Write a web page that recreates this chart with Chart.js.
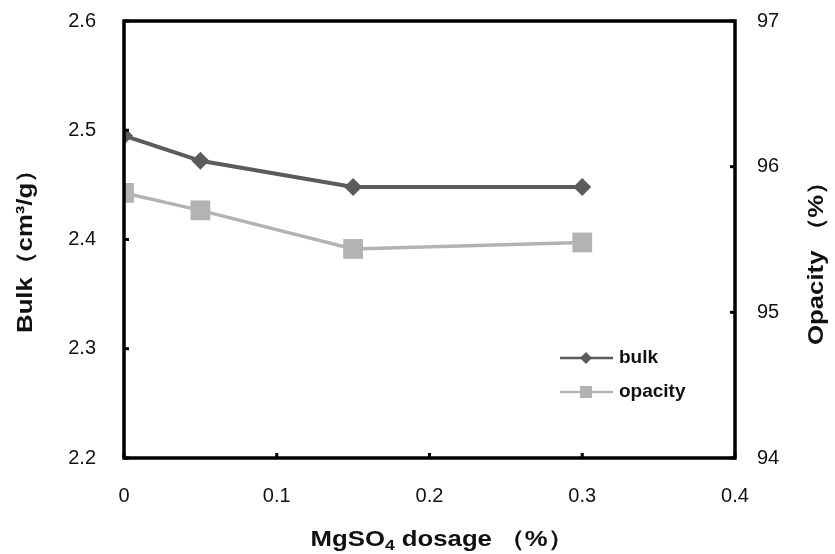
<!DOCTYPE html>
<html><head><meta charset="utf-8">
<script src="https://cdn.jsdelivr.net/npm/chart.js@4"></script>
<style>html,body{margin:0;padding:0;background:#fff}#wrap{width:835px;height:554px}</style>
</head><body><div id="wrap"><canvas id="c" width="835" height="554"></canvas></div>
<script>
const dosage = [0, 0.05, 0.15, 0.3];
const bulk = [2.495, 2.472, 2.448, 2.448];
const opacity = [95.82, 95.70, 95.435, 95.48];
const xTicks = [0, 0.1, 0.2, 0.3, 0.4];
const bulkTicks = [2.2, 2.3, 2.4, 2.5, 2.6];
const opacityTicks = [94, 95, 96, 97];

const FONT = "'Liberation Sans', Arial, 'DejaVu Sans', sans-serif";

const framePlugin = {
  id: 'frame',
  afterDatasetsDraw(chart) {
    const ctx = chart.ctx, a = chart.chartArea;
    ctx.save();
    ctx.strokeStyle = '#000';
    ctx.lineWidth = 3.5;
    ctx.strokeRect(a.left, a.top, a.right - a.left, a.bottom - a.top);
    ctx.lineWidth = 3;
    const tl = 5;
    chart.scales.x.ticks.forEach(t => {
      const px = chart.scales.x.getPixelForValue(t.value);
      ctx.beginPath(); ctx.moveTo(px, a.bottom); ctx.lineTo(px, a.bottom - tl); ctx.stroke();
    });
    chart.scales.y.ticks.forEach(t => {
      const py = chart.scales.y.getPixelForValue(t.value);
      ctx.beginPath(); ctx.moveTo(a.left, py); ctx.lineTo(a.left + tl, py); ctx.stroke();
    });
    chart.scales.y1.ticks.forEach(t => {
      const py = chart.scales.y1.getPixelForValue(t.value);
      ctx.beginPath(); ctx.moveTo(a.right, py); ctx.lineTo(a.right - tl, py); ctx.stroke();
    });
    // legend
    const items = [
      {ds: chart.data.datasets[0], y: 358},
      {ds: chart.data.datasets[1], y: 392}
    ];
    items.forEach(it => {
      const ds = it.ds;
      ctx.strokeStyle = ds.borderColor;
      ctx.lineWidth = 2.5;
      ctx.beginPath(); ctx.moveTo(560, it.y); ctx.lineTo(613, it.y); ctx.stroke();
      ctx.fillStyle = ds.backgroundColor;
      ctx.beginPath();
      if (ds.pointStyle === 'rect') { ctx.rect(586 - 6, it.y - 6, 12, 12); }
      else { ctx.moveTo(586, it.y - 6); ctx.lineTo(592, it.y); ctx.lineTo(586, it.y + 6); ctx.lineTo(580, it.y); ctx.closePath(); }
      ctx.fill();
      ctx.fillStyle = '#111';
      ctx.font = 'bold 19px ' + FONT;
      ctx.textBaseline = 'middle';
      ctx.textAlign = 'left';
      ctx.fillText(ds.label, 619, it.y);
    });
    // axis titles
    ctx.fillStyle = '#111';
    ctx.textBaseline = 'middle';
    const big = 'bold 22px ' + FONT, small = 'bold 15px ' + FONT;
    const SX = 1.17;
    // x title with subscript
    const p1 = 'MgSO', p2 = '4', p3 = ' dosage （%）';
    ctx.font = big; const w1 = ctx.measureText(p1).width, w3 = ctx.measureText(p3).width;
    ctx.font = small; const w2 = ctx.measureText(p2).width;
    ctx.save();
    ctx.translate(442, 540); ctx.scale(SX, 1);
    let x0 = -(w1 + w2 + w3) / 2;
    ctx.textAlign = 'left';
    ctx.font = big; ctx.fillText(p1, x0, 0);
    ctx.font = small; ctx.fillText(p2, x0 + w1, 6);
    ctx.font = big; ctx.fillText(p3, x0 + w1 + w2, 0);
    ctx.restore();
    // left title
    ctx.save();
    ctx.translate(26, 245); ctx.rotate(-Math.PI / 2); ctx.scale(SX, 1);
    ctx.textAlign = 'center'; ctx.font = big;
    ctx.fillText('Bulk（cm³/g）', 0, 0);
    ctx.restore();
    // right title
    ctx.save();
    ctx.translate(817, 257); ctx.rotate(-Math.PI / 2); ctx.scale(SX, 1);
    ctx.textAlign = 'center'; ctx.font = big;
    ctx.fillText('Opacity （%）', 0, 0);
    ctx.restore();
    ctx.restore();
  }
};

new Chart(document.getElementById('c'), {
  type: 'line',
  data: {
    datasets: [
      {
        label: 'bulk',
        data: dosage.map((x, i) => ({x, y: bulk[i]})),
        yAxisID: 'y',
        borderColor: '#5b5b5b',
        backgroundColor: '#5b5b5b',
        borderWidth: 4,
        pointStyle: 'rectRot',
        pointRadius: 9,
        pointBorderWidth: 0,
        tension: 0
      },
      {
        label: 'opacity',
        data: dosage.map((x, i) => ({x, y: opacity[i]})),
        yAxisID: 'y1',
        borderColor: '#b3b3b3',
        backgroundColor: '#b3b3b3',
        borderWidth: 3.5,
        pointStyle: 'rect',
        pointRadius: 14,
        pointBorderWidth: 0,
        tension: 0
      }
    ]
  },
  plugins: [framePlugin],
  options: {
    responsive: false,
    animation: false,
    events: [],
    layout: {padding: {top: 21, left: 0, right: 0, bottom: 0}},
    plugins: {legend: {display: false}, tooltip: {enabled: false}},
    scales: {
      x: {
        type: 'linear', min: 0, max: 0.4,
        afterBuildTicks: s => { s.ticks = xTicks.map(v => ({value: v})); },
        afterFit: s => { s.height = 96; },
        grid: {display: false, drawTicks: false},
        border: {display: false},
        ticks: {padding: 26, color: '#111', font: {family: FONT, size: 20}, callback: v => String(v)},
        title: {display: false}
      },
      y: {
        type: 'linear', position: 'left', min: 2.2, max: 2.6,
        afterBuildTicks: s => { s.ticks = bulkTicks.map(v => ({value: v})); },
        afterFit: s => { s.width = 124; s.paddingTop = 0; s.paddingBottom = 0; },
        grid: {display: false, drawTicks: false},
        border: {display: false},
        ticks: {padding: 28, color: '#111', font: {family: FONT, size: 20}, callback: v => v.toFixed(1)},
        title: {display: false}
      },
      y1: {
        type: 'linear', position: 'right', min: 94, max: 97,
        afterBuildTicks: s => { s.ticks = opacityTicks.map(v => ({value: v})); },
        afterFit: s => { s.width = 100; s.paddingTop = 0; s.paddingBottom = 0; },
        grid: {display: false, drawTicks: false},
        border: {display: false},
        ticks: {padding: 22, color: '#111', font: {family: FONT, size: 20}, callback: v => String(v)},
        title: {display: false}
      }
    }
  }
});
</script>
</body></html>
